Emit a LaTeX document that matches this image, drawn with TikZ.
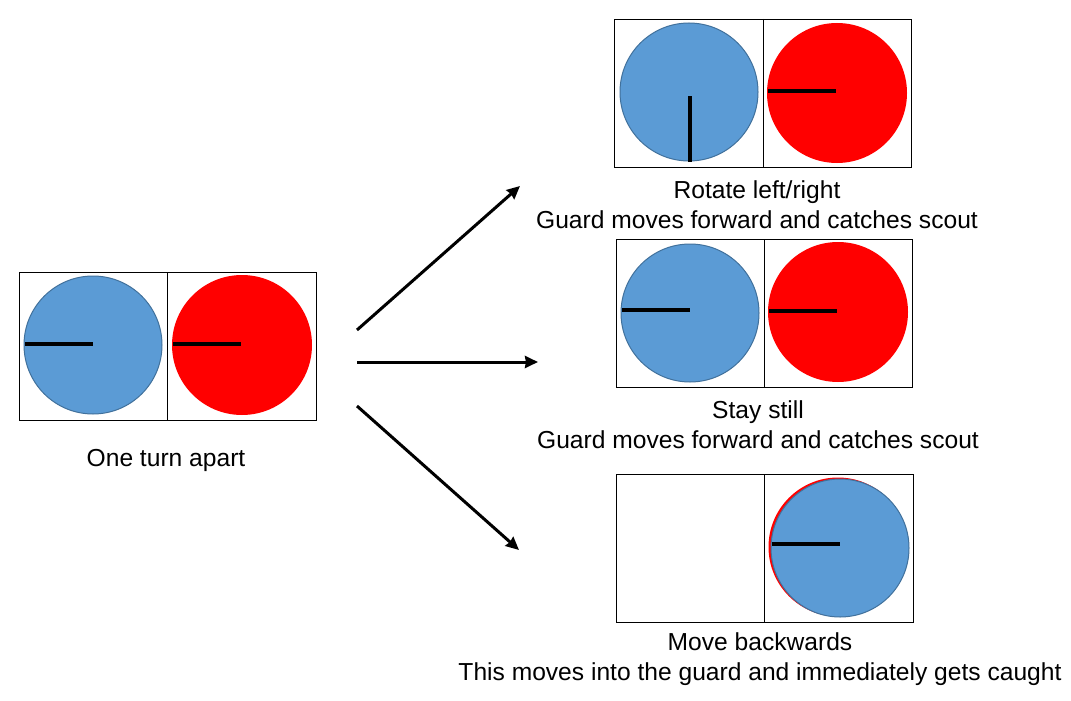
\documentclass[tikz,border=0pt]{standalone}
\usepackage{fontspec}
\setmainfont{Liberation Sans}
\usetikzlibrary{arrows.meta}
\definecolor{blueF}{HTML}{5B9BD5}
\definecolor{blueD}{HTML}{41719C}
\begin{document}
\begin{tikzpicture}[x=1pt,y=-1pt,
  panel/.style={draw=black,line width=0.9pt,fill=white},
  bluedisc/.style={fill=blueF,draw=blueD,line width=1pt},
  reddisc/.style={fill=red},
  hand/.style={line width=3.4pt,black},
  arr/.style={line width=3pt,-{Stealth[length=13pt,width=12pt,inset=1pt]}},
  lbl/.style={font=\fontsize{24.6}{30}\selectfont,align=center,inner sep=0pt}]
\useasboundingbox (0,0) rectangle (1071,701);
% left panel
\draw[panel] (19,272) rectangle (316,420);
\draw[line width=0.9pt] (167,272) -- (167,420);
\filldraw[bluedisc] (93,345) circle (69);
\draw[hand] (25,344) -- (93,344);
\fill[reddisc] (242,345) circle (70);
\draw[hand] (173,344) -- (241,344);
\node[lbl] (l0) at (166,460) {One turn apart};
% top right
\draw[panel] (614,19) rectangle (911,167);
\draw[line width=0.9pt] (763,19) -- (763,167);
\filldraw[bluedisc] (689,92) circle (69);
\draw[hand] (690,96) -- (690,162);
\fill[reddisc] (837,93) circle (70);
\draw[hand] (768,91) -- (836,91);
\node[lbl] (l1) at (757,205) {Rotate left/right\\Guard moves forward and catches scout};
% middle right
\draw[panel] (616,239) rectangle (912,387);
\draw[line width=0.9pt] (764,239) -- (764,387);
\filldraw[bluedisc] (690,313) circle (69);
\draw[hand] (622,310) -- (690,310);
\fill[reddisc] (838,312) circle (70);
\draw[hand] (769,311) -- (837,311);
\node[lbl] (l2) at (758,425) {Stay still\\Guard moves forward and catches scout};
% bottom right
\draw[panel] (616,474) rectangle (913,622);
\draw[line width=0.9pt] (764,474) -- (764,622);
\fill[reddisc] (838,547) circle (69.5);
\filldraw[bluedisc] (840,548) circle (69);
\draw[hand] (772,544) -- (840,544);
\node[lbl] (l3) at (760,659) {Move backwards\\This moves into the guard and immediately gets caught};
% arrows
\coordinate (a0) at (357,330); \coordinate (a1) at (520,186);
\coordinate (b0) at (357,362); \coordinate (b1) at (538,362);
\coordinate (c0) at (357,406); \coordinate (c1) at (519,550);
\draw[arr] (a0) -- (a1);
\draw[arr] (b0) -- (b1);
\draw[arr] (c0) -- (c1);
\end{tikzpicture}
\end{document}
